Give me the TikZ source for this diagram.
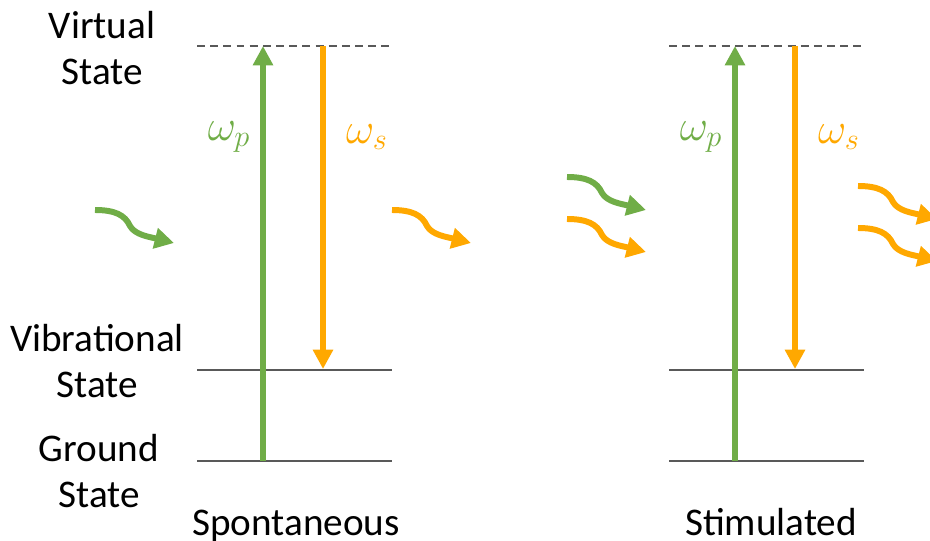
\documentclass[tikz,border=0pt]{standalone}
\usepackage{fontspec}
\setmainfont{Carlito}
\usepackage{xcolor}
\usetikzlibrary{arrows.meta,positioning}
\definecolor{ramanGreen}{HTML}{70AD47}
\definecolor{ramanOrange}{HTML}{FFA800}
\definecolor{levelGray}{HTML}{595959}

\begin{document}
\begin{tikzpicture}[
  % pixel-like units, y grows downwards
  x=0.02cm, y=-0.02cm,
  level/.style={draw=levelGray, line width=0.6pt},
  virtual/.style={level, dash pattern=on 4.5pt off 3pt},
  transition/.style={line width=3.3pt, -{Triangle[length=11pt,width=11pt]}},
  statelabel/.style={font=\fontsize{22.3}{26.5}\selectfont, align=center, inner sep=0pt},
  freqlabel/.style={font=\fontsize{25}{30}\selectfont, inner sep=0pt},
  pics/photon/.style={code={
    \draw[line width=3.4pt, -{Triangle[length=11pt,width=11.5pt]}]
      (0,0) .. controls (20,0) and (30,5) .. (35,16)
            .. controls (40,25) and (55,27) .. (79,33);
  }},
]
\useasboundingbox (0,0) rectangle (930,541);

% --- Energy levels and transitions (spontaneous / stimulated) ---
\foreach \dx/\nm in {0/sp, 472/st} {
  \draw[virtual] (197+\dx,46) -- (392+\dx,46);
  \draw[level] (197+\dx,370) -- (392+\dx,370);
  \draw[level] (197+\dx,461) -- (392+\dx,461);

  \coordinate (\nm-ground) at (263+\dx,461);
  \coordinate (\nm-top-p) at (263+\dx,46);
  \coordinate (\nm-top-s) at (323+\dx,46);
  \coordinate (\nm-vib) at (323+\dx,369);

  \draw[transition, ramanGreen] (\nm-ground) -- (\nm-top-p);
  \draw[transition, ramanOrange] (\nm-top-s) -- (\nm-vib);

  \node[freqlabel, text=ramanGreen] (\nm-wp) at (229+\dx,137) {$\omega_p$};
  \node[freqlabel, text=ramanOrange] (\nm-ws) at (367+\dx,137) {$\omega_s$};
}

% --- Incoming and outgoing photons ---
\pic[ramanGreen] at (95,210) {photon};
\pic[ramanOrange] at (392,210) {photon};
\pic[ramanGreen] at (567,177) {photon};
\pic[ramanOrange] at (567,219) {photon};
\pic[ramanOrange] at (858,186) {photon};
\pic[ramanOrange] at (858,228) {photon};

% --- State names ---
\node[statelabel] (virt) at (102,48) {Virtual\\State};
\node[statelabel] (vibr) at (97,361) {Vibrational\\State};
\node[statelabel] (grnd) at (99,471) {Ground\\State};

\node[statelabel, anchor=base] (spont) at (296,535) {Spontaneous};
\node[statelabel, anchor=base] (stim) at (771,535) {Stimulated};

\end{tikzpicture}
\end{document}
